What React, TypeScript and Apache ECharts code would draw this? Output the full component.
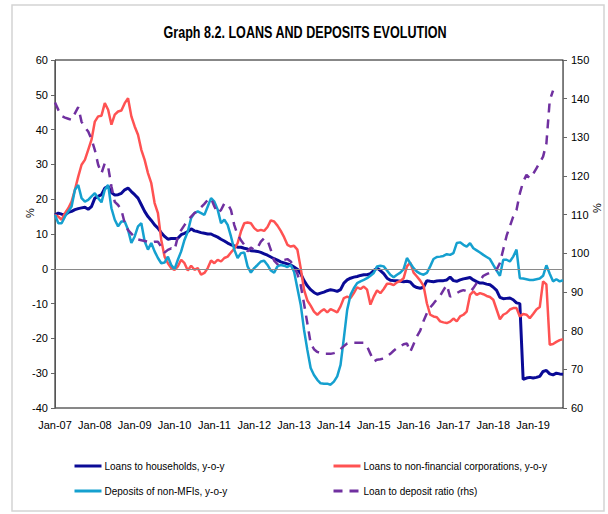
import React, { useEffect, useRef } from "react";
import * as echarts from "echarts";

const MONTHS = ["Jan", "Feb", "Mar", "Apr", "May", "Jun", "Jul", "Aug", "Sep", "Oct", "Nov", "Dec"];
const YEARS = ["07", "08", "09", "10", "11", "12", "13", "14", "15", "16", "17", "18", "19"];
const N_MONTHS = 154; // Jan-07 .. Oct-19
const categories: string[] = [];
YEARS.forEach((y) => MONTHS.forEach((m) => categories.push(`${m}-${y}`)));
const cats = categories.slice(0, N_MONTHS);

const leftTicks = { min: -40, max: 60, interval: 10 };
const rightTicks = { min: 60, max: 150, interval: 10 };

const households = [
  15.5, 16.0, 15.7, 15.5, 16.2, 16.5, 17.0, 17.3, 17.5, 17.7, 17.1, 17.9,
  20.3, 20.8, 21.3, 23.2, 23.7, 21.9, 21.2, 21.3, 21.7, 22.7, 23.2, 22.2,
  21.3, 20.3, 18.4, 16.5, 15.0, 13.9, 12.6, 11.7, 10.4, 9.3, 8.5, 8.7,
  8.7, 8.8, 9.8, 10.2, 10.7, 11.5, 10.9, 10.7, 10.4, 10.2, 10.0, 10.0,
  9.5, 9.1, 8.5, 8.0, 7.4, 6.9, 6.6, 6.2, 6.2, 5.9, 5.7, 5.2,
  5.1, 5.0, 4.7, 4.3, 3.9, 3.4, 2.9, 2.5, 2.0, 1.7, 1.4, 1.1,
  0.5, -0.1, -1.4, -3.4, -4.9, -6.0, -6.8, -7.3, -7.0, -6.7, -6.3, -6.0,
  -6.2, -6.5, -6.0, -4.1, -3.2, -2.7, -2.4, -2.2, -1.9, -1.7, -1.7, -1.4,
  -0.5, 0.2, -0.5, -1.4, -2.7, -3.3, -3.4, -3.4, -3.6, -3.7, -3.6, -3.8,
  -4.9, -5.4, -5.6, -5.3, -3.4, -3.6, -3.7, -3.5, -3.4, -3.4, -3.2, -2.4,
  -3.4, -3.6, -3.2, -2.9, -2.7, -2.5, -3.2, -3.7, -4.1, -4.1, -4.4, -4.6,
  -5.3, -6.2, -8.2, -8.6, -8.5, -8.4, -8.9, -9.8, -10.0, -31.8, -31.4, -31.2,
  -31.4, -31.2, -30.9, -29.5, -29.2, -30.2, -30.5, -30.0, -30.2, -30.3,
];

const corporations = [
  15.5, 15.0, 14.1, 16.0, 17.4, 19.3, 22.7, 26.5, 29.9, 31.3, 34.2, 37.1,
  42.3, 43.8, 44.0, 47.6, 45.7, 41.4, 44.3, 45.2, 45.5, 47.6, 49.0, 43.8,
  40.9, 38.5, 34.2, 31.3, 27.5, 24.6, 18.9, 16.0, 8.3, 3.5, 1.6, 0.2,
  -0.3, 0.7, 2.6, 1.6, -0.5, 0.9, -0.3, 0.2, -1.7, -1.2, 0.2, 2.4,
  1.6, 2.6, 2.1, 3.1, 3.5, 4.7, 5.7, 7.4, 10.7, 13.1, 13.3, 13.1,
  11.7, 10.9, 11.2, 10.9, 12.0, 13.9, 13.6, 12.4, 10.9, 9.1, 6.9, 6.4,
  6.6, 5.5, 0.2, -6.0, -9.1, -10.6, -12.3, -13.2, -12.3, -11.6, -12.5, -11.6,
  -12.0, -12.5, -10.8, -8.4, -8.0, -8.4, -7.0, -5.3, -5.8, -5.1, -6.0, -10.3,
  -8.0, -6.2, -7.0, -5.8, -4.3, -4.3, -4.7, -3.9, -3.5, -2.7, 0.7, 1.8,
  -1.1, -2.2, -3.4, -4.9, -9.9, -13.2, -13.7, -13.9, -15.1, -15.4, -15.6, -15.2,
  -14.3, -15.1, -13.7, -13.2, -12.3, -7.5, -6.5, -7.5, -7.0, -7.3, -7.8, -8.1,
  -8.9, -11.7, -14.5, -13.2, -12.7, -11.7, -11.3, -11.3, -13.7, -13.0, -13.2, -14.2,
  -13.0, -11.7, -11.0, -3.6, -4.5, -21.8, -21.6, -21.0, -20.5, -20.2,
];

const deposits = [
  15.5, 13.1, 13.1, 15.0, 16.5, 17.9, 22.7, 24.1, 20.3, 19.3, 19.8, 20.8,
  21.7, 20.3, 19.1, 22.7, 24.1, 17.4, 14.1, 12.2, 13.6, 13.6, 11.2, 7.4,
  9.3, 12.2, 13.1, 7.9, 5.5, 7.4, 5.0, 3.1, 1.6, 1.8, 3.5, 1.1,
  -0.1, 2.6, 5.0, 8.3, 10.7, 14.6, 16.0, 16.5, 16.0, 15.5, 17.9, 20.3,
  19.3, 17.0, 13.1, 14.1, 12.6, 9.3, 5.5, 3.1, 4.5, 4.7, 0.7, -1.1,
  0.2, 1.1, 2.1, 2.3, 1.1, -0.5, -1.1, 0.7, 1.1, 0.9, 0.5, 1.1,
  -0.8, -5.6, -10.3, -17.5, -23.3, -28.5, -30.5, -31.9, -32.9, -33.0, -33.0, -33.3,
  -32.4, -30.9, -27.6, -19.9, -11.8, -7.5, -5.6, -4.1, -3.6, -3.2, -2.7, -2.0,
  -1.2, 0.7, 0.9, 0.7, -0.5, -1.7, -2.4, -1.7, -1.1, -0.1, 3.1, 1.6,
  0.2, -0.8, -1.4, -1.7, -1.2, 0.7, 2.8, 3.4, 3.5, 3.7, 4.2, 4.0,
  4.5, 7.4, 7.6, 6.9, 6.4, 7.4, 5.9, 5.3, 4.7, 4.0, 3.4, 2.8,
  1.1, -0.5, -2.0, 2.6, 2.6, 2.1, 3.5, 5.5, -2.7, -2.8, -3.0, -3.2,
  -3.2, -3.0, -2.8, -2.0, 1.0, -1.4, -3.6, -3.0, -3.6, -3.3,
];

const loanToDeposit = [
  139.0, 137.1, 135.5, 135.1, 134.8, 134.5, 136.2, 137.8, 134.0, 132.6, 131.5, 129.5,
  126.7, 122.9, 120.7, 123.3, 122.4, 117.3, 113.3, 112.5, 111.2, 107.8, 106.0, 105.1,
  104.1, 103.6, 103.4, 103.2, 103.0, 102.8, 103.0, 103.0, 101.7, 100.2, 100.9, 101.3,
  100.9, 104.3, 106.0, 107.3, 108.6, 109.5, 110.4, 111.0, 111.9, 112.8, 113.8, 114.2,
  112.1, 110.4, 111.2, 112.9, 112.8, 111.2, 107.3, 104.8, 103.4, 102.2, 100.5, 101.5,
  100.9, 101.5, 103.0, 103.9, 103.4, 100.9, 98.1, 97.2, 97.9, 98.3, 98.5, 97.9,
  96.6, 94.7, 91.8, 87.0, 81.9, 76.7, 75.2, 74.5, 74.2, 74.0, 74.0, 74.0,
  74.2, 74.5, 75.2, 76.0, 76.7, 76.9, 76.9, 76.9, 76.9, 76.9, 75.9, 74.0,
  72.0, 72.5, 72.6, 72.8, 73.5, 74.0, 74.8, 75.5, 75.9, 76.5, 76.7, 74.5,
  76.5, 78.5, 80.0, 82.5, 84.5, 86.0, 87.0, 88.1, 89.0, 90.5, 91.8, 88.8,
  89.2, 89.7, 90.2, 90.5, 90.2, 90.0, 91.0, 92.3, 93.0, 94.2, 94.6, 95.0,
  95.4, 95.8, 97.5, 101.0, 104.5, 107.0, 109.5, 111.2, 115.5, 118.5, 120.3, 119.4,
  120.5, 122.0, 123.5, 125.0, 128.4, 139.5, 142.1, null, null, null,
];

const TITLE = "Graph 8.2. LOANS AND DEPOSITS EVOLUTION";
const NAMES = [
  "Loans to households, y-o-y",
  "Loans to non-financial corporations, y-o-y",
  "Deposits of non-MFIs, y-o-y",
  "Loan to deposit ratio (rhs)",
];
const COLORS = ["#0a0a96", "#ff5252", "#15a0cf", "#7030a0"];
const FONT = "'Liberation Sans', Arial, sans-serif";

export default function App() {
  const ref = useRef<HTMLDivElement>(null);
  useEffect(() => {
    if (!ref.current) return;
    const chart = echarts.init(ref.current, undefined, { renderer: "svg" });
    const legendBase = {
      itemWidth: 27,
      itemHeight: 12,
      padding: 0,
      itemStyle: { opacity: 0 },
      lineStyle: { width: 3 },
      textStyle: { fontSize: 10, color: "#000", fontFamily: FONT, padding: [0, 0, 0, -2] },
      selectedMode: false,
    };
    const axisText = { fontSize: 11, color: "#000", fontFamily: FONT };
    chart.setOption({
      animation: false,
      backgroundColor: "#fff",
      grid: {
        left: 55,
        right: 45,
        top: 60,
        bottom: 106,
        show: true,
        borderColor: "#111",
        borderWidth: 1,
      },
      legend: [
        { ...legendBase, data: [NAMES[0]], left: 73, top: 461 },
        { ...legendBase, data: [NAMES[1]], left: 332, top: 461 },
        { ...legendBase, data: [NAMES[2]], left: 73, top: 486 },
        { ...legendBase, data: [NAMES[3]], left: 332, top: 486 },
      ],
      xAxis: {
        type: "category",
        data: cats,
        boundaryGap: false,
        axisLine: { show: false },
        axisTick: { show: false },
        axisLabel: { interval: 11, margin: 11, ...axisText },
        splitLine: { show: false },
      },
      yAxis: [
        {
          type: "value",
          ...leftTicks,
          position: "left",
          axisLine: { show: true, lineStyle: { color: "#555" } },
          axisTick: { show: true, length: 4, lineStyle: { color: "#666" } },
          axisLabel: { margin: 7, ...axisText },
          splitLine: { show: false },
        },
        {
          type: "value",
          ...rightTicks,
          position: "right",
          axisLine: { show: true, lineStyle: { color: "#777" } },
          axisTick: { show: true, length: 4, lineStyle: { color: "#666" } },
          axisLabel: { margin: 8, ...axisText },
          splitLine: { show: false },
        },
      ],
      graphic: [
        {
          type: "rect",
          shape: { x: 12, y: 5, width: 592, height: 506 },
          style: { fill: "none", stroke: "#d4d4d4", lineWidth: 1.5 },
          silent: true,
        },
        {
          type: "text",
          x: 305,
          y: 32,
          scaleX: 0.74,
          style: {
            text: TITLE,
            fontSize: 17,
            fontWeight: "bold",
            fill: "#000",
            fontFamily: FONT,
            align: "center",
            verticalAlign: "middle",
          },
        },
        {
          type: "text",
          x: 30,
          y: 213,
          rotation: Math.PI / 2,
          style: { text: "%", fontSize: 11, fill: "#000", fontFamily: FONT, align: "center", verticalAlign: "middle" },
        },
        {
          type: "text",
          x: 597,
          y: 208,
          rotation: Math.PI / 2,
          style: { text: "%", fontSize: 11, fill: "#000", fontFamily: FONT, align: "center", verticalAlign: "middle" },
        },
      ],
      series: [
        {
          name: NAMES[0],
          type: "line",
          data: households,
          yAxisIndex: 0,
          symbol: "none",
          color: COLORS[0],
          lineStyle: { width: 3, color: COLORS[0] },
          z: 3,
          markLine: {
            silent: true,
            symbol: "none",
            label: { show: false },
            lineStyle: { color: "#8a8a8a", width: 1.2, type: "solid" },
            data: [{ yAxis: 0 }],
          },
        },
        {
          name: NAMES[1],
          type: "line",
          data: corporations,
          yAxisIndex: 0,
          symbol: "none",
          color: COLORS[1],
          lineStyle: { width: 2.5, color: COLORS[1] },
          z: 3,
        },
        {
          name: NAMES[2],
          type: "line",
          data: deposits,
          yAxisIndex: 0,
          symbol: "none",
          color: COLORS[2],
          lineStyle: { width: 2.5, color: COLORS[2] },
          z: 3,
        },
        {
          name: NAMES[3],
          type: "line",
          data: loanToDeposit,
          yAxisIndex: 1,
          symbol: "none",
          color: COLORS[3],
          connectNulls: false,
          lineStyle: { width: 2.5, color: COLORS[3], type: [9, 7] },
          z: 3,
        },
      ],
    });
    return () => chart.dispose();
  }, []);
  return (
    <div
      ref={ref}
      style={{ position: "fixed", left: 0, top: 0, width: 608, height: 514, background: "#fff" }}
    />
  );
}
